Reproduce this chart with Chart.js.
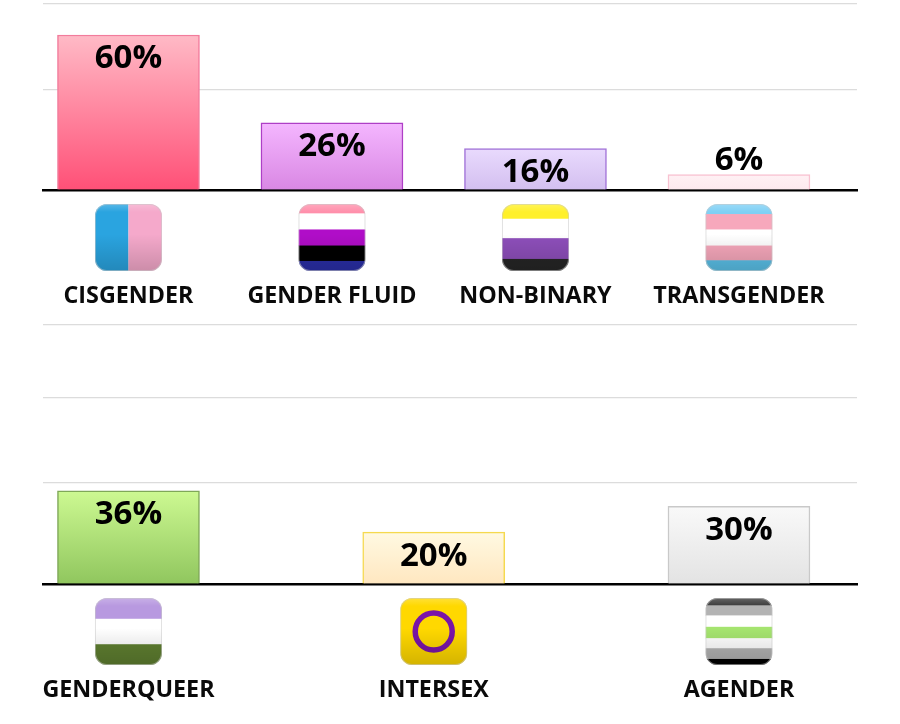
<!DOCTYPE html>
<html>
<head>
<meta charset="utf-8">
<title>Gender identity</title>
<script src="https://cdn.jsdelivr.net/npm/chart.js@4"></script>
<style>
  html, body { margin: 0; background: #fff; }
  canvas { position: absolute; left: 0; }
  #topChart { top: 0; }
  #bottomChart { top: 320px; }
</style>
</head>
<body>
<canvas id="topChart" width="900" height="320"></canvas>
<canvas id="bottomChart" width="900" height="404"></canvas>
<script>
const topCategories = ['CISGENDER', 'GENDER FLUID', 'NON-BINARY', 'TRANSGENDER'];
const topSlots = [0, 1, 2, 3];
const topValues = [60, 26, 16, 6];
const topGridValues = [39, 72];

const bottomCategories = ['GENDERQUEER', 'INTERSEX', 'AGENDER'];
const bottomSlots = [0, 1.5, 3];
const bottomValues = [36, 20, 30];
const bottomGridValues = [39, 72, 100];

const topFills = [['#FFBAC6', '#FF5077'], ['#F4B6FF', '#D987E3'], ['#E9DAFD', '#D3BFF0'], ['#FFF1F4', '#FDE9EE']];
const topBorders = ['#F27C9C', '#AE3FC6', '#A274D8', '#F8C2D1'];
const bottomFills = [['#CDF992', '#90C65E'], ['#FFF9E2', '#FFE7C0'], ['#F9F9F9', '#E3E3E3']];
const bottomBorders = ['#7FA858', '#F5D94F', '#C9C9C9'];

// flag stripes as [colour, share of the icon height]
const flags = {
  'GENDER FLUID': [['#FF8FAB', 14], ['#FFFFFF', 24], ['#B00DC8', 24], ['#000000', 23], ['#2A2FA8', 15]],
  'NON-BINARY': [['#FFF02A', 22], ['#FFFFFF', 29], ['#8E4FBB', 31], ['#262626', 18]],
  'TRANSGENDER': [['#7FD0F5', 15], ['#F7A8BC', 23], ['#FFFFFF', 24], ['#F7A8BC', 22], ['#5BC2EA', 16]],
  'GENDERQUEER': [['#B899E0', 31], ['#FFFFFF', 38], ['#5F7F30', 31]],
  'INTERSEX': [['#FFD800', 100]],
  'AGENDER': [['#3A3A3A', 11], ['#B3B3B3', 15], ['#FFFFFF', 17], ['#A5E46F', 17], ['#FFFFFF', 15], ['#B3B3B3', 16], ['#000000', 9]],
  'CISGENDER': []
};

const fontFamily = '"Open Sans", sans-serif';

function drawFlag(ctx, name, cx, top) {
  const size = 67;
  const x = cx - size / 2;
  ctx.save();
  ctx.beginPath();
  ctx.roundRect(x, top, size, size, 12);
  ctx.clip();
  if (name === 'CISGENDER') {
    ctx.fillStyle = '#2AA4E0';
    ctx.fillRect(x, top, size / 2, size);
    ctx.fillStyle = '#F5A9CB';
    ctx.fillRect(x + size / 2, top, size / 2, size);
  } else {
    let y = top;
    flags[name].forEach(([color, share]) => {
      const h = size * share / 100;
      ctx.fillStyle = color;
      ctx.fillRect(x, y, size, h + 0.5);
      y += h;
    });
  }
  if (name === 'INTERSEX') {
    ctx.strokeStyle = '#7A14A8';
    ctx.lineWidth = 5.5;
    ctx.beginPath();
    ctx.arc(cx, top + size / 2, 18.5, 0, Math.PI * 2);
    ctx.stroke();
  }
  // the soft glossy shading on the icons
  const shade = ctx.createLinearGradient(0, top, 0, top + size);
  shade.addColorStop(0, 'rgba(255,255,255,0.22)');
  shade.addColorStop(0.12, 'rgba(255,255,255,0)');
  shade.addColorStop(0.45, 'rgba(0,0,0,0)');
  shade.addColorStop(1, 'rgba(0,0,0,0.17)');
  ctx.fillStyle = shade;
  ctx.fillRect(x, top, size, size);
  // thin pale rim
  ctx.strokeStyle = 'rgba(200,200,200,0.55)';
  ctx.lineWidth = 2;
  ctx.beginPath();
  ctx.roundRect(x, top, size, size, 12);
  ctx.stroke();
  ctx.restore();
}

const barExtras = {
  id: 'barExtras',
  afterDraw(chart) {
    const ctx = chart.ctx;
    const xScale = chart.scales.x;
    const bars = chart.getDatasetMeta(0).data;
    const values = chart.data.datasets[0].data;
    ctx.save();
    ctx.fillStyle = '#000';
    ctx.font = 'bold 33px ' + fontFamily;
    ctx.textAlign = 'center';
    ctx.textBaseline = 'middle';
    bars.forEach((bar, i) => {
      const short = bar.base - bar.y < 30;
      ctx.fillText(values[i].y + '%', bar.x, short ? bar.y - 14 : bar.y + 24);
    });
    ctx.restore();
    chart.options.categoryNames.forEach((name, i) => {
      drawFlag(ctx, name, xScale.getPixelForValue(values[i].x), xScale.top + 14);
    });
  }
};

function makeChart(id, names, slots, values, gridValues, fills, borders, yMax, paddingTop, paddingBottom) {
  const points = slots.map((slot, i) => ({ x: slot, y: values[i] }));
  return new Chart(document.getElementById(id), {
    type: 'bar',
    data: {
      datasets: [{
        data: points,
        barThickness: 142,
        borderWidth: 1.5,
        borderColor: borders,
        backgroundColor(context) {
          const fill = fills[context.dataIndex] || fills[0];
          const yScale = context.chart.scales.y;
          const top = yScale ? yScale.getPixelForValue(values[context.dataIndex]) : NaN;
          const bottom = yScale ? yScale.getPixelForValue(0) : NaN;
          if (!Number.isFinite(top) || !Number.isFinite(bottom)) return fill[0];
          const g = context.chart.ctx.createLinearGradient(0, top, 0, bottom);
          g.addColorStop(0, fill[0]);
          g.addColorStop(1, fill[1]);
          return g;
        }
      }]
    },
    options: {
      categoryNames: names,
      responsive: false,
      animation: false,
      layout: { padding: { left: 43, right: 43, top: paddingTop, bottom: paddingBottom } },
      plugins: { legend: { display: false }, tooltip: { enabled: false } },
      scales: {
        x: {
          type: 'linear',
          offset: false,
          min: -0.42,
          max: 3.58,
          z: 1,
          afterBuildTicks(scale) { scale.ticks = slots.map(v => ({ value: v })); },
          afterFit(scale) {
            scale.height = 122;
            // labels may hang past the plot edges, as in the original
            scale.paddingLeft = 0;
            scale.paddingRight = 0;
          },
          grid: { display: false },
          border: { display: true, color: '#000', width: 2.5 },
          ticks: {
            autoSkip: false,
            maxRotation: 0,
            padding: 84,
            color: '#0A0A0A',
            font: { family: fontFamily, size: 23.3, weight: 'bold' },
            callback(value) { return names[slots.indexOf(value)]; }
          }
        },
        y: {
          min: 0,
          max: yMax,
          afterBuildTicks(scale) { scale.ticks = [0, ...gridValues].map(v => ({ value: v })); },
          border: { display: false },
          grid: { color: '#DCDCDC', lineWidth: 1.2, drawTicks: false },
          ticks: { display: false }
        }
      }
    },
    plugins: [barExtras]
  });
}

makeChart('topChart', topCategories, topSlots, topValues, topGridValues, topFills, topBorders, 72, 4, 8);
makeChart('bottomChart', bottomCategories, bottomSlots, bottomValues, bottomGridValues, bottomFills, bottomBorders, 100, 5, 18);
</script>
</body>
</html>
